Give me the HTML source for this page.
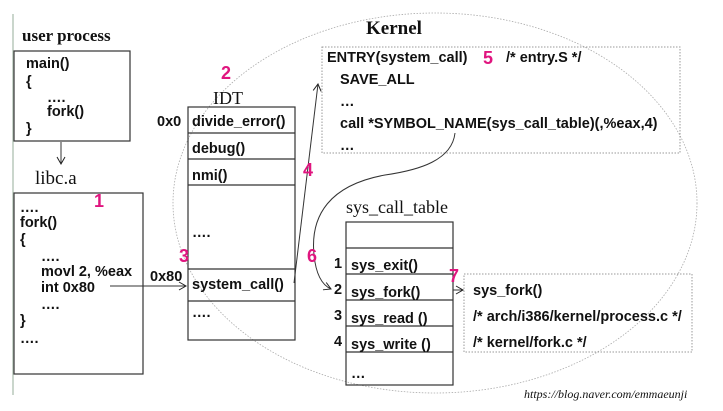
<!DOCTYPE html>
<html><head><meta charset="utf-8"><style>
html,body{margin:0;padding:0;background:#fff}
svg{display:block}
.a{font-family:"Liberation Sans",Arial,sans-serif;font-weight:bold;font-size:14.5px;fill:#111}
.s{font-family:"Liberation Serif",serif;fill:#111}
.p{font-family:"Liberation Sans",Arial,sans-serif;font-weight:bold;font-size:18px;fill:#e0157f}
</style></head><body>
<svg width="723" height="411" viewBox="0 0 723 411" xmlns="http://www.w3.org/2000/svg">
<defs>
<marker id="ar" markerWidth="10" markerHeight="10" refX="8" refY="5" orient="auto" markerUnits="userSpaceOnUse">
<path d="M1,1 L8,5 L1,9" fill="none" stroke="#222" stroke-width="1"/></marker>
</defs>
<line x1="13" y1="14" x2="13" y2="395" stroke="#b8c8bc" stroke-width="1.5"/>
<ellipse cx="435" cy="203" rx="262" ry="190" fill="none" stroke="#aaa" stroke-width="0.8" stroke-dasharray="1.5,1.5"/>

<text x="22" y="41" class="s" font-size="17" font-weight="bold">user process</text>
<rect x="14" y="51" width="116" height="90" fill="none" stroke="#333" stroke-width="1.2"/>
<text class="a" x="26" y="68">main()</text>
<text class="a" x="26" y="86">{</text>
<text class="a" x="47" y="102">….</text>
<text class="a" x="47" y="116">fork()</text>
<text class="a" x="26" y="133">}</text>
<line x1="61" y1="142" x2="61" y2="164" stroke="#333" marker-end="url(#ar)"/>
<text x="35" y="184" class="s" font-size="19">libc.a</text>
<rect x="14" y="193" width="129" height="181" fill="none" stroke="#333" stroke-width="1.2"/>
<text class="p" x="94" y="207">1</text>
<text class="a" x="20" y="212">….</text>
<text class="a" x="20" y="227">fork()</text>
<text class="a" x="20" y="244">{</text>
<text class="a" x="41" y="261">….</text>
<text class="a" x="41" y="276">movl 2, %eax</text>
<text class="a" x="41" y="292">int 0x80</text>
<text class="a" x="41" y="309">….</text>
<text class="a" x="20" y="325">}</text>
<text class="a" x="20" y="343">….</text>
<line x1="110" y1="286" x2="186" y2="286" stroke="#333" marker-end="url(#ar)"/>

<text class="p" x="221" y="79">2</text>
<text x="213" y="104" class="s" font-size="18">IDT</text>
<rect x="188" y="107" width="107" height="233" fill="none" stroke="#333" stroke-width="1.2"/>
<g stroke="#333" stroke-width="1.2"><line x1="188" y1="133" x2="295" y2="133"/><line x1="188" y1="159" x2="295" y2="159"/><line x1="188" y1="185" x2="295" y2="185"/><line x1="188" y1="269" x2="295" y2="269"/><line x1="188" y1="301" x2="295" y2="301"/></g>
<text class="a" x="157" y="126">0x0</text>
<text class="a" x="192" y="126">divide_error()</text>
<text class="a" x="192" y="153">debug()</text>
<text class="a" x="192" y="180">nmi()</text>
<text class="a" x="192" y="237">….</text>
<text class="p" x="179" y="262">3</text>
<text class="a" x="150" y="281">0x80</text>
<text class="a" x="192" y="289">system_call()</text>
<text class="a" x="192" y="317">….</text>

<line x1="294" y1="283" x2="318" y2="84" stroke="#333" marker-end="url(#ar)"/>
<text class="p" x="303" y="176">4</text>

<text x="366" y="34" class="s" font-size="19" font-weight="bold">Kernel</text>
<rect x="322" y="47" width="358" height="106" fill="none" stroke="#999" stroke-dasharray="1.5,1.5"/>
<text class="a" x="327" y="62">ENTRY(system_call)</text>
<text class="p" x="483" y="64">5</text>
<text class="a" x="506" y="62">/* entry.S */</text>
<text class="a" x="340" y="84">SAVE_ALL</text>
<text class="a" x="340" y="106">…</text>
<text class="a" x="340" y="128">call *SYMBOL_NAME(sys_call_table)(,%eax,4)</text>
<text class="a" x="340" y="150">…</text>

<path d="M455,133 C452,160 420,170 385,175 C330,185 310,215 314,255 C316,275 322,285 331,289" fill="none" stroke="#333" marker-end="url(#ar)"/>
<text class="p" x="307" y="262">6</text>

<text x="346" y="213" class="s" font-size="18">sys_call_table</text>
<rect x="346" y="222" width="107" height="163" fill="none" stroke="#333" stroke-width="1.2"/>
<g stroke="#333" stroke-width="1.2"><line x1="346" y1="248" x2="453" y2="248"/><line x1="346" y1="274" x2="453" y2="274"/><line x1="346" y1="300" x2="453" y2="300"/><line x1="346" y1="326" x2="453" y2="326"/><line x1="346" y1="352" x2="453" y2="352"/></g>
<text class="a" x="334" y="268">1</text><text class="a" x="351" y="270">sys_exit()</text>
<text class="a" x="334" y="294">2</text><text class="a" x="351" y="297">sys_fork()</text>
<text class="a" x="334" y="320">3</text><text class="a" x="351" y="323">sys_read ()</text>
<text class="a" x="334" y="346">4</text><text class="a" x="351" y="349">sys_write ()</text>
<text class="a" x="351" y="378">…</text>

<text class="p" x="449" y="282">7</text>
<line x1="453" y1="290" x2="463" y2="290" stroke="#333" marker-end="url(#ar)"/>
<rect x="464" y="274" width="228" height="78" fill="none" stroke="#999" stroke-dasharray="1.5,1.5"/>
<text class="a" x="473" y="295">sys_fork()</text>
<text class="a" x="473" y="321">/* arch/i386/kernel/process.c */</text>
<text class="a" x="473" y="347">/* kernel/fork.c */</text>

<text x="524" y="398" class="s" font-size="12" font-style="italic">https://blog.naver.com/emmaeunji</text>
</svg>
</body></html>
